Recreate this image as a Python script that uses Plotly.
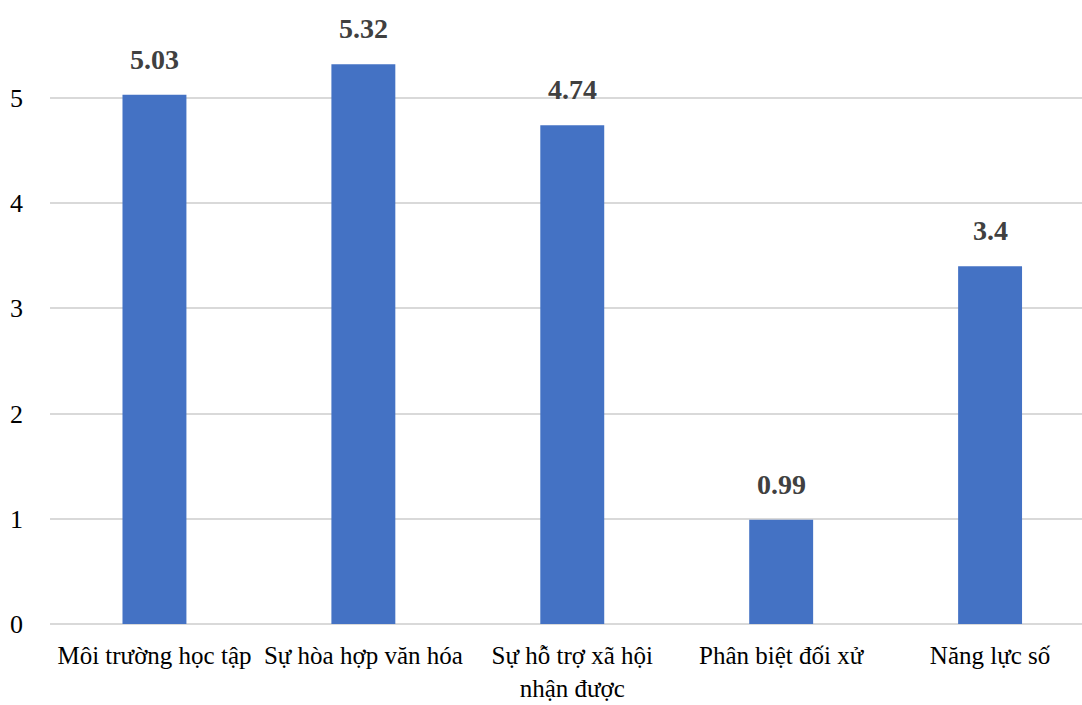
import plotly.graph_objects as go

categories = ["Môi trường học tập", "Sự hòa hợp văn hóa", "Sự hỗ trợ xã hội<br>nhận được",
              "Phân biệt đối xử", "Năng lực số"]
values = [5.03, 5.32, 4.74, 0.99, 3.4]
value_labels = ["5.03", "5.32", "4.74", "0.99", "3.4"]
y_ticks = [0, 1, 2, 3, 4, 5]

FONT = "Liberation Serif, Times New Roman, serif"

fig = go.Figure()
fig.add_trace(go.Bar(
    x=categories, y=values, width=0.306,
    marker=dict(color="#4472C4", line=dict(width=0)),
    hoverinfo="skip",
))

for c, v, t in zip(categories, values, value_labels):
    fig.add_annotation(x=c, y=v, text="<b>" + t + "</b>", showarrow=False,
                       yanchor="bottom", yshift=18,
                       font=dict(family=FONT, size=28, color="#404040"))

fig.update_layout(
    width=1082, height=705,
    margin=dict(l=50, r=0, t=0, b=81),
    plot_bgcolor="white", paper_bgcolor="white",
    showlegend=False,
    font=dict(family=FONT),
    xaxis=dict(range=[-0.5, 4.44], showgrid=False, showline=False, zeroline=False,
               ticks="", tickfont=dict(family=FONT, size=25, color="#000000"),
               ticklabelstandoff=14),
    yaxis=dict(range=[0, 5.93], tickvals=y_ticks, showgrid=True, gridcolor="#d9d9d9",
               gridwidth=1.5, zeroline=True, zerolinecolor="#d9d9d9", zerolinewidth=1.5,
               showline=False, ticks="",
               tickfont=dict(family=FONT, size=26, color="#000000"),
               ticklabelstandoff=26),
)

fig.write_html("out.html")
